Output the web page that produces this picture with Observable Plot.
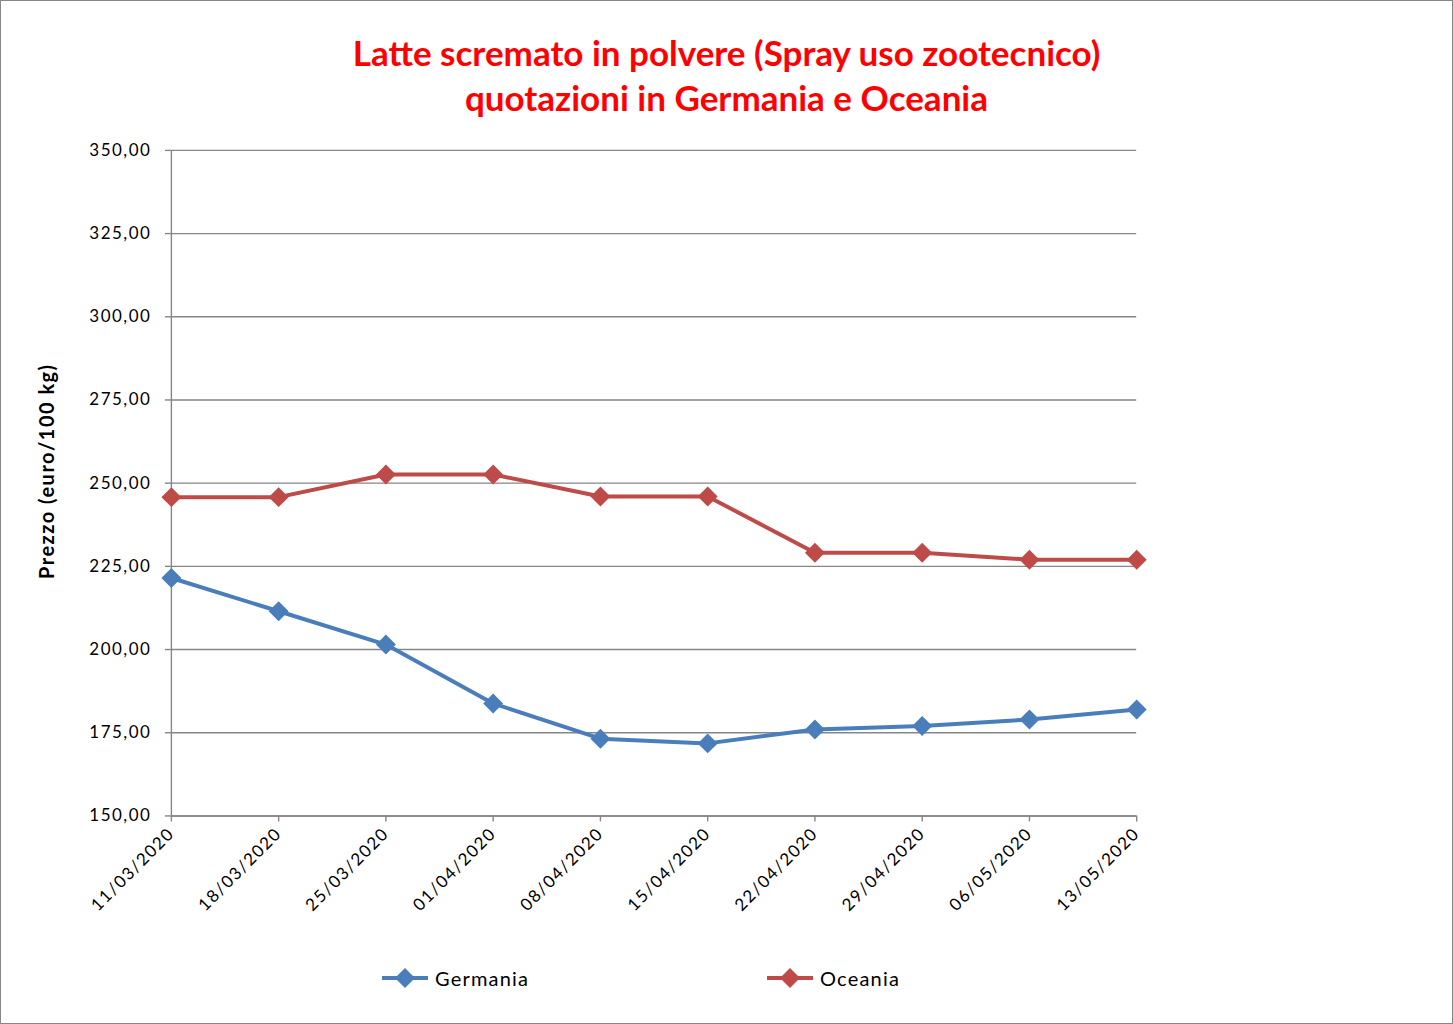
<!DOCTYPE html>
<html><head><meta charset="utf-8">
<script src="https://cdn.jsdelivr.net/npm/d3@7"></script>
<script src="https://cdn.jsdelivr.net/npm/@observablehq/plot@0.6"></script>
<style>
body{margin:0;background:#fff;}
#chart{position:relative;width:1451px;height:1022px;border:1px solid #868686;overflow:hidden;font-family:Lato,"Open Sans",sans-serif;background:#fff;}
#title{position:absolute;left:0;top:29px;width:1451px;text-align:center;color:#ff0000;font-weight:bold;font-size:35px;line-height:45px;}
#plot{position:absolute;left:-1px;top:-1px;}
.leg{position:absolute;display:flex;align-items:center;font-size:20px;letter-spacing:1.2px;color:#000;}
.leg svg{margin-right:7px;}
</style></head>
<body>
<div id="chart">
  <div id="plot"></div>
  <div id="title">Latte scremato in polvere (Spray uso zootecnico)<br>quotazioni in Germania e Oceania</div>
  <div id="legend"></div>
</div>
<script>
const dates = ["11/03/2020","18/03/2020","25/03/2020","01/04/2020","08/04/2020","15/04/2020","22/04/2020","29/04/2020","06/05/2020","13/05/2020"];
const germania = [221.5, 211.5, 201.5, 183.8, 173.2, 171.8, 176.0, 177.0, 179.0, 182.0];
const oceania = [245.8, 245.8, 252.6, 252.6, 246.0, 246.0, 229.1, 229.1, 227.0, 227.0];
const seriesNames = ["Germania", "Oceania"];
const seriesColors = ["#4a7ebb", "#be4b48"];
const yTicks = [150, 175, 200, 225, 250, 275, 300, 325, 350];
const yLabel = "Prezzo (euro/100 kg)";

const rows = [];
dates.forEach((d, i) => {
  rows.push({date: d, value: germania[i], series: seriesNames[0]});
});
dates.forEach((d, i) => {
  rows.push({date: d, value: oceania[i], series: seriesNames[1]});
});

const chart = Plot.plot({
  width: 1453, height: 1024,
  marginLeft: 171, marginRight: 316, marginTop: 150, marginBottom: 208,
  style: {fontFamily: "Lato, 'Open Sans', sans-serif", fontSize: "17px", color: "#000", background: "transparent", letterSpacing: "1.5px"},
  x: {type: "point", domain: dates, padding: 0, round: false},
  y: {domain: [150, 350]},
  color: {domain: seriesNames, range: seriesColors},
  marks: [
    Plot.gridY(yTicks, {stroke: "#868686", strokeOpacity: 1, strokeWidth: 1.4}),
    Plot.ruleX([dates[0]], {stroke: "#868686", strokeWidth: 1.4}),
    Plot.ruleY([150], {stroke: "#868686", strokeWidth: 1.4}),
    Plot.axisY(yTicks, {tickSize: 6, tickPadding: 14, stroke: "#868686", strokeWidth: 1.4, tickFormat: d => d.toFixed(2).replace(".", ","), label: null}),
    Plot.axisX({tickSize: 6, tickPadding: 9, tickRotate: -45, stroke: "#868686", strokeWidth: 1.4, label: null}),
    Plot.line(rows, {x: "date", y: "value", z: "series", stroke: "series", strokeWidth: 4}),
    Plot.dot(rows, {x: "date", y: "value", fill: "series", symbol: "diamond2", r: 9}),
    Plot.text([yLabel], {frameAnchor: "left", dx: -124, dy: -12, rotate: -90, textAnchor: "middle", fontWeight: "bold", fontSize: 20})
  ]
});
document.getElementById("plot").appendChild(chart);

// legend
const legend = document.getElementById("legend");
const legPos = [381, 766];
seriesNames.forEach((name, i) => {
  const div = document.createElement("div");
  div.className = "leg";
  div.style.left = legPos[i] + "px";
  div.style.top = (977 - 14) + "px";
  div.style.height = "28px";
  const c = seriesColors[i];
  div.innerHTML = `<svg width="46" height="28"><line x1="0" y1="14" x2="46" y2="14" stroke="${c}" stroke-width="4"/><path d="M23 4 L33 14 L23 24 L13 14 Z" fill="${c}"/></svg><span>${name}</span>`;
  legend.appendChild(div);
});
</script>
</body></html>
